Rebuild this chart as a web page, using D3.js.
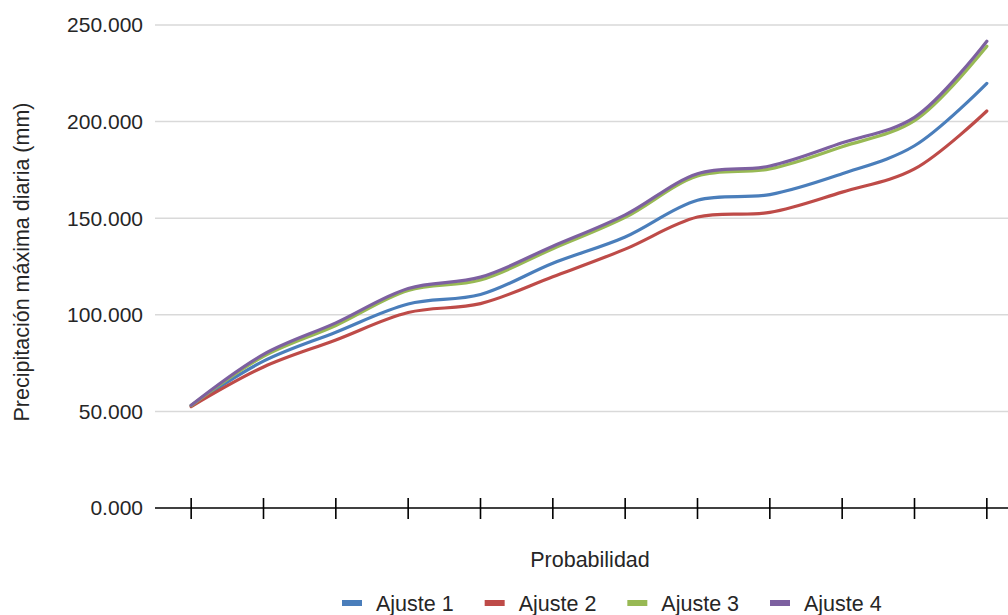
<!DOCTYPE html>
<html>
<head>
<meta charset="utf-8">
<script src="https://cdn.jsdelivr.net/npm/d3@7"></script>
<style>
  html, body { margin: 0; padding: 0; background: #ffffff; }
  svg { display: block; font-family: "Liberation Sans", Arial, sans-serif; }
</style>
</head>
<body>
<svg id="chart" width="1008" height="615"></svg>
<script>
// ---- data ----
const categories = ["P1","P2","P3","P4","P5","P6","P7","P8","P9","P10","P11","P12"];
const seriesNames = ["Ajuste 1", "Ajuste 2", "Ajuste 3", "Ajuste 4"];
const ajuste1 = [53.0, 76.0, 91.0, 105.6, 110.5, 126.7, 140.3, 159.3, 162.2, 173.0, 187.5, 219.8];
const ajuste2 = [52.5, 73.0, 87.0, 101.2, 105.8, 119.7, 134.0, 150.6, 153.0, 163.5, 175.5, 205.5];
const ajuste3 = [53.0, 78.5, 94.5, 112.6, 118.0, 134.2, 150.4, 171.8, 175.5, 187.0, 200.5, 239.0];
const ajuste4 = [53.2, 79.5, 95.8, 113.6, 119.5, 135.5, 151.7, 173.0, 177.0, 189.0, 202.2, 241.6];
const yTicks = [0, 50, 100, 150, 200, 250];
const colors = ["#4A7EBB", "#BE4B48", "#98B954", "#7D60A0"];

const seriesValues = [ajuste1, ajuste2, ajuste3, ajuste4];

(function () {
// ---- layout ----
const svg = d3.select("#chart");
const mLeft = 155, mRight = 1023, mTop = 25, mBottom = 508;
const textColor = "#262626";

const x = d3.scaleBand().domain(categories).range([mLeft, mRight]);
const xc = d => x(d) + x.bandwidth() / 2;
const y = d3.scaleLinear().domain([0, 250]).range([mBottom, mTop]);

// gridlines
svg.append("g").selectAll("line")
  .data(yTicks.filter(t => t > 0))
  .join("line")
  .attr("x1", mLeft).attr("x2", 1008)
  .attr("y1", d => y(d)).attr("y2", d => y(d))
  .attr("stroke", "#d9d9d9").attr("stroke-width", 1.5);

// y tick labels
svg.append("g").selectAll("text")
  .data(yTicks)
  .join("text")
  .attr("x", 143).attr("y", d => y(d))
  .attr("dy", "0.35em")
  .attr("text-anchor", "end")
  .attr("font-size", 21)
  .attr("fill", textColor)
  .text(d => d3.format(".3f")(d));

// x axis
const xAxis = d3.axisBottom(x).tickSize(0).tickFormat("");
const gx = svg.append("g").attr("transform", `translate(0,${y(0)})`).call(xAxis);
gx.select(".domain").remove();
gx.append("line").attr("x1", mLeft).attr("x2", 1008).attr("y1", 0).attr("y2", 0)
  .attr("stroke", "#000").attr("stroke-width", 1.6);
gx.selectAll(".tick line")
  .attr("y1", -10).attr("y2", 11)
  .attr("stroke", "#000").attr("stroke-width", 1.6);

// lines
const line = d3.line()
  .x((d, i) => xc(categories[i]))
  .y(d => y(d))
  .curve(d3.curveCatmullRom.alpha(0.5));

svg.append("g").selectAll("path")
  .data(seriesValues)
  .join("path")
  .attr("d", d => line(d))
  .attr("fill", "none")
  .attr("stroke", (d, i) => colors[i])
  .attr("stroke-width", 3.2)
  .attr("stroke-linecap", "round")
  .attr("stroke-linejoin", "round");

// axis titles
svg.append("text")
  .attr("transform", `translate(29,262) rotate(-90)`)
  .attr("text-anchor", "middle")
  .attr("font-size", 21.5)
  .attr("fill", textColor)
  .text("Precipitación máxima diaria (mm)");

svg.append("text")
  .attr("x", 590).attr("y", 567)
  .attr("text-anchor", "middle")
  .attr("font-size", 21.5)
  .attr("fill", textColor)
  .text("Probabilidad");

// legend
const legend = svg.append("g");
const lx = d3.scalePoint().domain(seriesNames).range([342, 770]);
const items = legend.selectAll("g").data(seriesNames).join("g")
  .attr("transform", d => `translate(${lx(d)},603)`);
items.append("rect").attr("x", 0).attr("y", -3).attr("width", 20).attr("height", 6)
  .attr("fill", (d, i) => colors[i]);
items.append("text").attr("x", 34).attr("y", 0).attr("dy", "0.35em")
  .attr("font-size", 21.5).attr("fill", textColor).text(d => d);
})();
</script>
</body>
</html>
